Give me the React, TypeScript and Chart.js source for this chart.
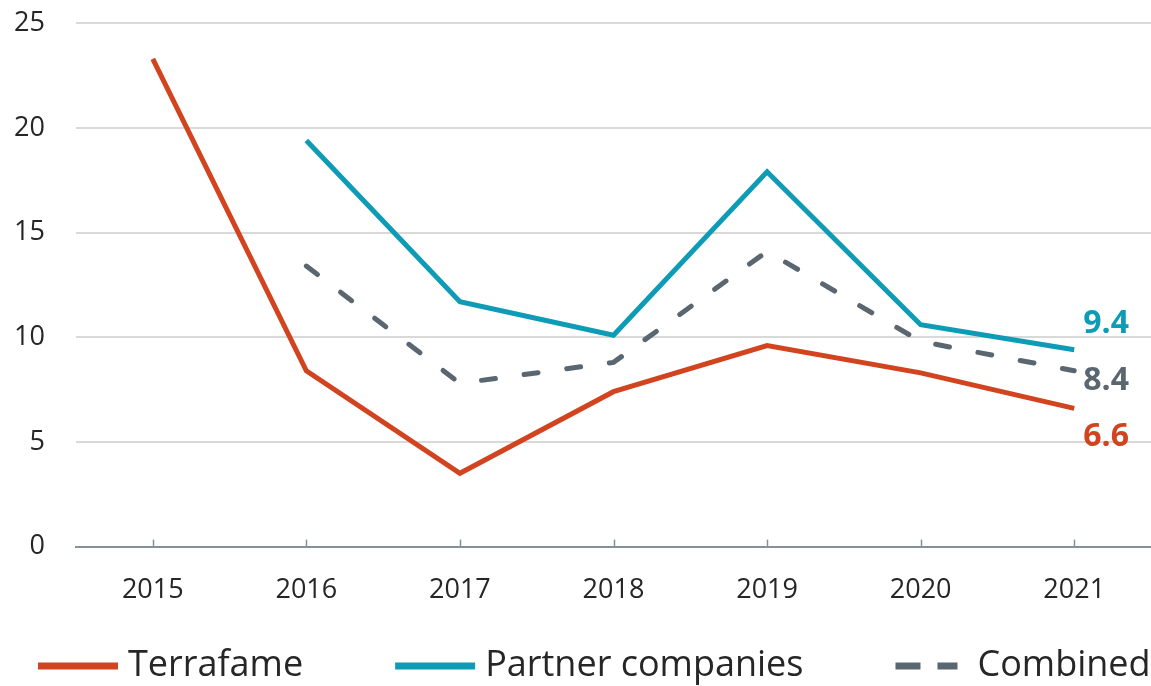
import React, { useEffect, useRef } from "react";
import { Chart, registerables } from "chart.js";

Chart.register(...registerables);

const years = ["2015", "2016", "2017", "2018", "2019", "2020", "2021"];
const terrafame = [23.3, 8.4, 3.5, 7.4, 9.6, 8.3, 6.6];
const partners = [null, 19.4, 11.7, 10.1, 17.9, 10.6, 9.4];
const combined = [null, 13.4, 7.8, 8.8, 14.1, 9.8, 8.4];
const seriesNames = ["Terrafame", "Partner companies", "Combined"];
const seriesColors = ["#D2441F", "#0E9BB6", "#5A6770"];
const endLabels = ["6.6", "9.4", "8.4"];
const endLabelDy = [28, -26, 10];

const FONT = "'Open Sans', 'DejaVu Sans', sans-serif";

const endLabelPlugin = {
  id: "endLabels",
  afterDatasetsDraw(chart: any) {
    const ctx = chart.ctx;
    ctx.save();
    ctx.font = `bold 32px ${FONT}`;
    ctx.textAlign = "left";
    ctx.textBaseline = "middle";
    chart.data.datasets.forEach((ds: any, i: number) => {
      const meta = chart.getDatasetMeta(i);
      const pt = meta.data[meta.data.length - 1];
      if (!pt) return;
      ctx.fillStyle = seriesColors[i];
      ctx.fillText(endLabels[i], pt.x + 9, pt.y + endLabelDy[i]);
    });
    ctx.restore();
  },
};

const innerTicksPlugin = {
  id: "innerTicks",
  afterDraw(chart: any) {
    const ctx = chart.ctx;
    const x = chart.scales.x;
    const bottom = chart.chartArea.bottom;
    ctx.save();
    ctx.strokeStyle = "#83919A";
    ctx.lineWidth = 1.5;
    for (let i = 0; i < years.length; i++) {
      const px = Math.round(x.getPixelForTick(i)) + 0.5;
      ctx.beginPath();
      ctx.moveTo(px, bottom);
      ctx.lineTo(px, bottom - 7);
      ctx.stroke();
    }
    ctx.restore();
  },
};

// Legend drawn along the bottom edge, styled like the reference
const legendPlugin = {
  id: "bottomLegend",
  afterDraw(chart: any) {
    const ctx = chart.ctx;
    const startX = 38;
    const cy = chart.height - 20;
    const lineLen = 80;
    const textGap = 10;
    const itemGap = 92;
    ctx.save();
    ctx.font = `36px ${FONT}`;
    ctx.textBaseline = "middle";
    ctx.textAlign = "left";
    let x = startX;
    chart.data.datasets.forEach((ds: any, i: number) => {
      ctx.strokeStyle = seriesColors[i];
      ctx.lineWidth = 7;
      ctx.lineCap = "butt";
      if (i === 2) {
        ctx.setLineDash([25, 17]);
        ctx.beginPath();
        ctx.moveTo(x, cy);
        ctx.lineTo(x + 62, cy);
        ctx.stroke();
      } else {
        ctx.setLineDash([]);
        ctx.beginPath();
        ctx.moveTo(x, cy);
        ctx.lineTo(x + lineLen, cy);
        ctx.stroke();
      }
      const boxW = i === 2 ? 62 + 20 : lineLen + textGap;
      ctx.fillStyle = "#262626";
      ctx.fillText(ds.label, x + boxW, cy);
      x += boxW + ctx.measureText(ds.label).width + itemGap;
    });
    ctx.restore();
  },
};

export default function App() {
  const ref = useRef<HTMLCanvasElement>(null);
  useEffect(() => {
    if (!ref.current) return;
    const chart = new Chart(ref.current, {
      type: "line",
      data: {
        labels: years,
        datasets: [
          {
            label: seriesNames[0],
            data: terrafame,
            borderColor: seriesColors[0],
            backgroundColor: seriesColors[0],
            borderWidth: 5,
            pointRadius: 0,
            tension: 0,
          },
          {
            label: seriesNames[1],
            data: partners as any,
            borderColor: seriesColors[1],
            backgroundColor: seriesColors[1],
            borderWidth: 5,
            pointRadius: 0,
            tension: 0,
          },
          {
            label: seriesNames[2],
            data: combined as any,
            borderColor: seriesColors[2],
            backgroundColor: seriesColors[2],
            borderWidth: 5,
            borderDash: [14, 29],
            borderCapStyle: "round",
            pointRadius: 0,
            tension: 0,
          },
        ],
      },
      options: {
        animation: false,
        responsive: true,
        maintainAspectRatio: false,
        layout: { padding: { left: 14, right: 0, top: 6, bottom: 59 } },
        plugins: {
          tooltip: { enabled: false },
          legend: { display: false },
        },
        scales: {
          x: {
            offset: true,
            grid: { display: false },
            border: { display: true, color: "#83919A", width: 2 },
            ticks: {
              padding: 20,
              color: "#262626",
              font: { family: FONT, size: 27 },
              maxRotation: 0,
            },
          },
          y: {
            min: 0,
            max: 25,
            afterFit: (s: any) => {
              s.width = 62;
            },
            border: { display: false },
            grid: {
              drawTicks: false,
              lineWidth: 2,
              color: (c: any) => (c.tick && c.tick.value === 0 ? "#83919A" : "#D9D9D9"),
            },
            ticks: {
              stepSize: 5,
              padding: 31,
              color: "#262626",
              font: { family: FONT, size: 27 },
            },
          },
        },
      },
      plugins: [endLabelPlugin, innerTicksPlugin, legendPlugin],
    });
    return () => chart.destroy();
  }, []);
  return (
    <div style={{ position: "fixed", left: 0, top: 0, width: 1151, height: 686, overflow: "hidden", background: "#fff" }}>
      <div style={{ position: "absolute", left: 0, top: -24, width: 1151, height: 710 }}>
        <canvas ref={ref} />
      </div>
    </div>
  );
}
